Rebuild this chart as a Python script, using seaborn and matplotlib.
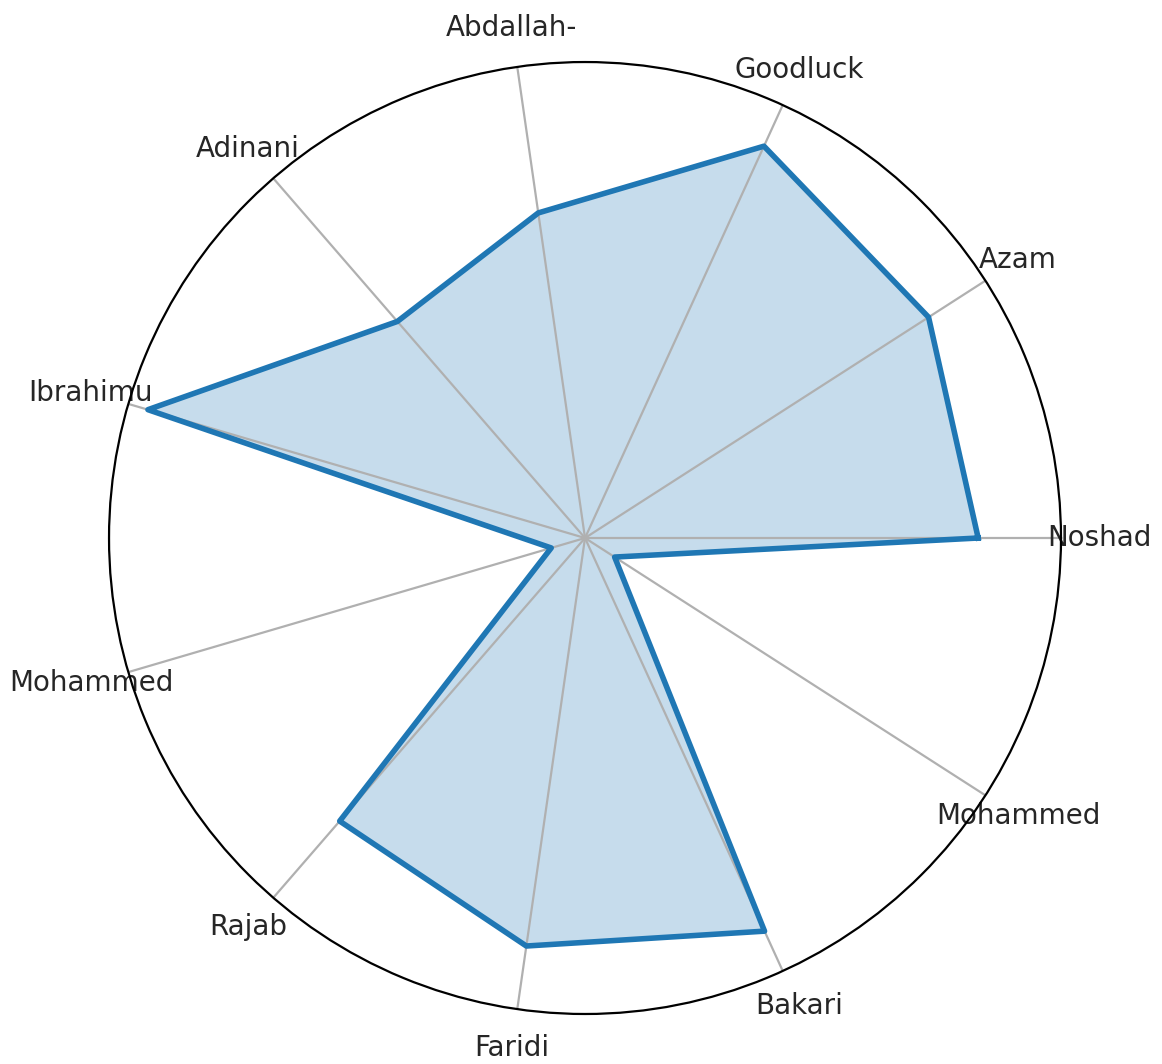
import numpy as np
import pandas as pd
import matplotlib
matplotlib.use("Agg")
import matplotlib.pyplot as plt
import seaborn as sns

categories = ["Noshad", "Azam", "Goodluck", "Abdallah-", "Adinani", "Ibrahimu",
              "Mohammed", "Rajab", "Faridi", "Bakari", "Mohammed"]
values = [82.6, 85.8, 90.5, 69.0, 60.2, 95.7, 7.4, 78.7, 86.6, 90.8, 7.4]

n = len(categories)
angles = np.linspace(0, 2 * np.pi, n, endpoint=False)
ang_closed = np.concatenate([angles, [2 * np.pi]])
val_closed = values + [values[0]]
df = pd.DataFrame({"angle": ang_closed, "value": val_closed})

fig = plt.figure(figsize=(5.81, 5.32), dpi=200)
ax = fig.add_axes([0.0938, 0.0470, 0.8193, 0.8947], projection="polar")

ax.fill(df["angle"], df["value"], color="#1f77b4", alpha=0.25, linewidth=0)
sns.lineplot(data=df, x="angle", y="value", sort=False, estimator=None,
             color="#1f77b4", linewidth=2, ax=ax)

ax.set_ylim(0, 100)
ax.set_yticks([])
ax.set_xticks(angles)
ax.set_xticklabels(categories, fontsize=10, color="#262626")
ax.tick_params(axis="x", pad=3.5)
ax.set_xlabel("")
ax.set_ylabel("")

fig.savefig("out.png", dpi=200)
